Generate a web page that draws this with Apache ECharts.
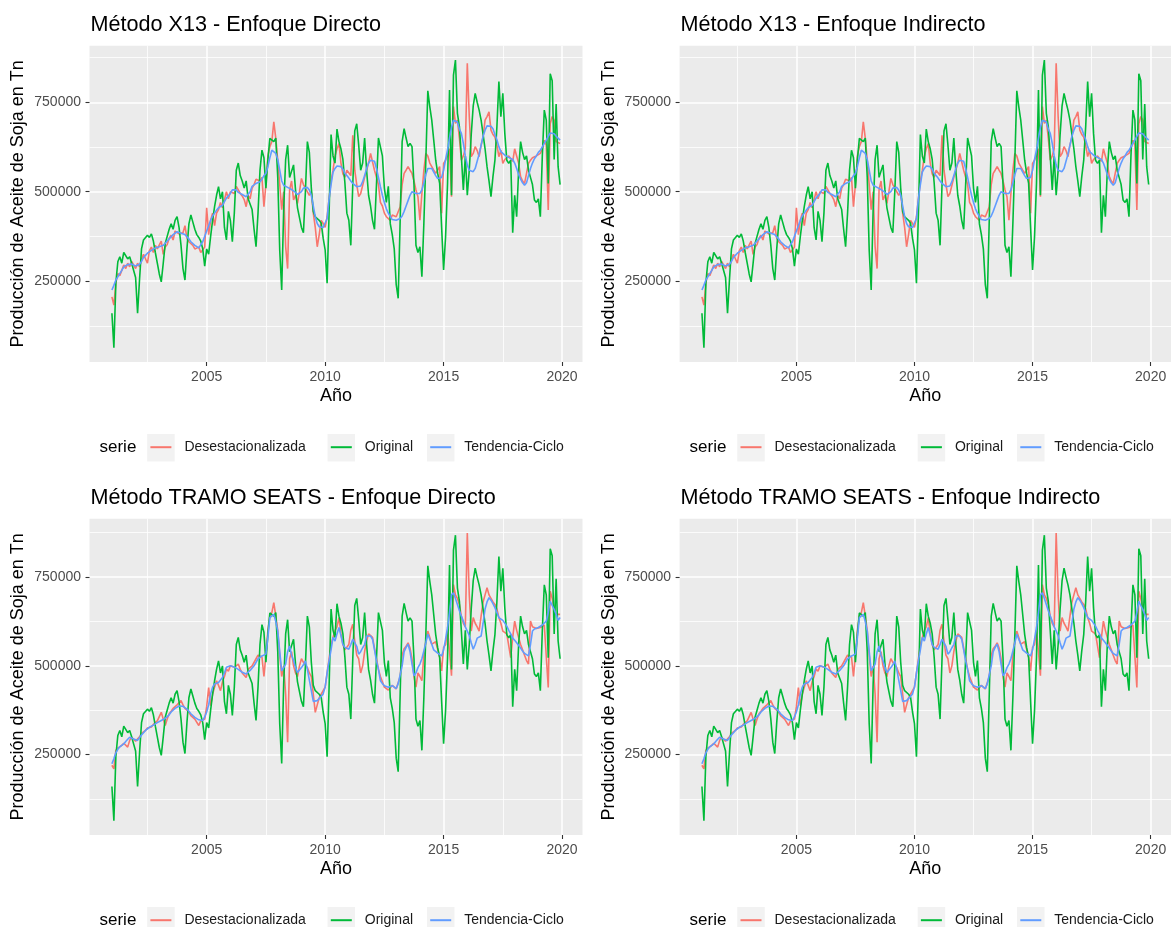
<!DOCTYPE html>
<html>
<head>
<meta charset="utf-8">
<title>Producción de Aceite de Soja - desestacionalización</title>
<script src="https://cdn.jsdelivr.net/npm/echarts@6/dist/echarts.min.js"></script>
<style>
  html, body { margin: 0; padding: 0; background: #ffffff; }
  #main { width: 1171px; height: 927px; }
</style>
</head>
<body>
<div id="main"></div>
<script>
  // serie mensual, enero 2001 a diciembre 2019, en miles de toneladas
  const anioInicio = 2001;

  const original = [
    160, 64, 245, 304, 318, 300, 330, 335, 312, 318, 300, 295,
    260, 160, 255, 340, 365, 360, 378, 372, 382, 362, 330, 300,
    270, 248, 300, 355, 375, 395, 410, 395, 420, 430, 400, 350,
    285, 253, 340, 410, 435, 415, 395, 380, 372, 362, 340, 292,
    340, 325, 375, 420, 458, 490, 514, 480, 500, 400, 365, 445,
    420, 360, 440, 560, 580, 545, 530, 510, 530, 480, 485, 450,
    395, 346, 440, 560, 616, 595, 510, 590, 649, 645, 640, 650,
    540, 336, 225, 450, 590, 630, 540, 545, 575, 505, 455, 450,
    400, 385, 500, 640, 610, 510, 445, 430, 425, 420, 412, 370,
    337, 244, 440, 660, 600, 580, 675, 640, 620, 590, 525, 440,
    420, 350, 520, 670, 690, 630, 560, 580, 650, 560, 490, 460,
    420, 395, 520, 650, 650, 600, 510, 470, 515, 410, 380, 340,
    240, 202, 420, 640, 676, 650, 626, 635, 626, 520, 350, 330,
    346, 262, 411, 588, 782, 738, 700, 644, 588, 551, 523, 400,
    281, 374, 523, 784, 490, 826, 868, 719, 682, 598, 505, 600,
    490, 560, 660, 740, 775, 750, 728, 700, 660, 620, 570, 530,
    486, 542, 588, 682, 808, 710, 775, 663, 588, 579, 588, 385,
    490, 430, 560, 640, 610, 590, 600, 560, 540, 520, 477, 470,
    480, 430, 600, 728, 700, 523, 830, 810, 590, 745, 570, 520
  ];

  const desX13 = [
    206, 183, 245, 271, 265, 280, 295, 285, 300, 290, 305, 300,
    285, 300, 290, 310, 325, 320, 300, 335, 345, 330, 350, 340,
    340, 362, 325, 345, 352, 370, 378, 365, 390, 395, 382, 378,
    385, 405, 370, 360, 365, 350, 340, 335, 345, 330, 325, 345,
    455, 380, 420, 440, 405, 440, 450, 470, 455, 460, 500, 480,
    500, 505, 495, 515, 505, 495, 488, 478, 458, 490, 480, 510,
    520, 535, 537, 530, 540, 458, 520, 600, 626, 640, 695, 650,
    588, 520, 450, 500, 346, 285, 505, 530, 477, 490, 467, 500,
    537, 520, 510, 505, 490, 500, 440, 400, 346, 380, 420, 411,
    400, 430, 480, 530, 560, 600, 620, 635, 580, 550, 540, 560,
    560, 545, 658, 560, 520, 486, 495, 500, 540, 560, 580, 607,
    607, 560, 540, 520, 470, 460, 440, 430, 425, 420, 435, 430,
    430, 425, 458, 520, 551, 560, 570, 560, 551, 530, 505, 486,
    420, 495, 560, 607, 600, 580, 570, 560, 551, 560, 570, 440,
    579, 588, 600, 620, 486, 738, 691, 700, 650, 588, 600, 620,
    859, 710, 598, 607, 626, 615, 598, 630, 653, 700, 710, 723,
    672, 660, 653, 630, 598, 616, 579, 590, 588, 600, 605, 585,
    620, 600, 580, 542, 530, 523, 525, 579, 588, 595, 598, 600,
    605, 607, 620, 644, 630, 449, 690, 710, 700, 640, 640, 635
  ];

  const tenX13 = [
    225, 238, 253, 262, 271, 280, 290, 293, 296, 299, 298, 295,
    292, 290, 297, 305, 316, 322, 328, 332, 336, 340, 343, 346,
    346, 346, 350, 356, 362, 368, 374, 380, 385, 388, 387, 384,
    383, 380, 375, 368, 360, 355, 350, 346, 343, 345, 360, 375,
    390, 405, 420, 432, 440, 448, 455, 458, 462, 472, 482, 486,
    495, 505, 509, 505, 498, 495, 492, 488, 486, 490, 500, 515,
    520, 523, 527, 528, 535, 545, 551, 570, 595, 616, 618, 607,
    590, 560, 530, 518, 514, 512, 510, 506, 503, 498, 492, 490,
    500, 510, 514, 512, 505, 490, 460, 430, 411, 402, 398, 400,
    405, 425, 480, 520, 555, 565, 572, 574, 570, 563, 551, 545,
    538, 530, 523, 518, 514, 512, 516, 528, 545, 565, 580, 588,
    590, 585, 565, 540, 514, 490, 470, 452, 440, 430, 422, 420,
    420, 420, 425, 432, 445, 460, 475, 490, 500, 500, 495, 490,
    495, 505, 525, 548, 565, 570, 565, 555, 545, 537, 532, 540,
    560, 590, 617, 650, 680, 700, 705, 695, 675, 663, 635, 600,
    575, 560, 555, 556, 565, 585, 605, 630, 655, 672, 684, 686,
    683, 676, 660, 645, 626, 612, 607, 602, 598, 596, 594, 590,
    580, 565, 548, 535, 525, 518, 525, 545, 565, 580, 592, 600,
    610, 616, 625, 635, 644, 655, 664, 667, 662, 655, 650, 644
  ];

  const desTS = [
    220, 210, 262, 268, 271, 276, 282, 280, 271, 290, 299, 295,
    288, 290, 300, 310, 305, 318, 325, 330, 328, 335, 340, 345,
    350, 369, 350, 332, 350, 365, 372, 380, 385, 390, 385, 402,
    390, 380, 375, 370, 360, 355, 350, 346, 332, 345, 340, 350,
    385, 439, 388, 420, 440, 458, 445, 430, 455, 470, 491, 485,
    500, 495, 496, 500, 505, 490, 480, 475, 467, 490, 495, 500,
    505, 520, 530, 535, 525, 470, 530, 600, 640, 650, 678, 640,
    600, 530, 470, 500, 420, 285, 520, 540, 500, 480, 470, 500,
    520, 510, 505, 495, 480, 470, 420, 369, 390, 410, 420, 430,
    440, 480, 520, 560, 580, 600, 610, 636, 590, 560, 545, 550,
    560, 600, 617, 570, 530, 520, 480, 500, 540, 570, 590, 590,
    580, 550, 520, 490, 470, 455, 440, 437, 432, 430, 445, 440,
    435, 430, 470, 530, 548, 555, 565, 550, 520, 470, 440, 480,
    470, 458, 530, 570, 598, 580, 561, 565, 568, 570, 525, 486,
    552, 560, 600, 540, 472, 729, 700, 690, 673, 640, 620, 610,
    874, 700, 598, 636, 620, 610, 598, 640, 680, 700, 720, 700,
    690, 680, 673, 660, 636, 620, 598, 600, 590, 585, 523, 580,
    626, 600, 580, 560, 545, 530, 515, 505, 626, 610, 608, 605,
    608, 608, 610, 615, 620, 439, 710, 690, 660, 645, 645, 645
  ];

  const tenTS = [
    224, 238, 255, 265, 272, 276, 280, 287, 293, 299, 297, 294,
    291, 290, 295, 305, 310, 318, 323, 327, 330, 333, 337, 340,
    344, 346, 348, 352, 355, 362, 370, 374, 380, 383, 387, 388,
    386, 383, 378, 372, 365, 360, 355, 351, 348, 346, 346, 356,
    370, 390, 421, 440, 449, 451, 453, 460, 467, 480, 496, 497,
    500, 498, 497, 494, 490, 486, 482, 478, 477, 482, 487, 491,
    500, 510, 520, 525, 528, 531, 533, 580, 636, 640, 645, 625,
    598, 540, 486, 495, 505, 540, 556, 530, 515, 495, 481, 488,
    495, 503, 514, 490, 460, 430, 400, 397, 402, 407, 414, 421,
    440, 480, 514, 545, 580, 570, 590, 608, 585, 560, 552, 548,
    547, 560, 575, 580, 555, 533, 540, 551, 560, 584, 586, 584,
    575, 545, 514, 490, 458, 450, 444, 439, 440, 442, 444, 440,
    436, 450, 475, 500, 540, 552, 561, 540, 505, 472, 480, 495,
    505, 520, 542, 565, 589, 575, 561, 545, 540, 536, 533, 528,
    545, 575, 608, 650, 700, 706, 690, 673, 655, 640, 626, 610,
    598, 585, 565, 547, 560, 578, 582, 584, 620, 660, 680, 692,
    685, 675, 664, 650, 636, 632, 628, 626, 612, 600, 590, 578,
    572, 565, 561, 550, 542, 535, 530, 528, 560, 598, 604, 608,
    608, 608, 615, 620, 626, 650, 682, 670, 659, 645, 628, 636
  ];

  const nombresSerie = ['Desestacionalizada', 'Original', 'Tendencia-Ciclo'];
  const colores = ['#F8766D', '#00BA38', '#619CFF'];
  const ticksAnio = [2005, 2010, 2015, 2020];
  const ticksAnioMenor = [2002.5, 2007.5, 2012.5, 2017.5];
  const ticksProd = [250000, 500000, 750000];
  const ticksProdMenor = [125000, 375000, 625000, 875000];

  const paneles = [
    { titulo: 'Método X13 - Enfoque Directo', des: desX13, ten: tenX13 },
    { titulo: 'Método X13 - Enfoque Indirecto', des: desX13, ten: tenX13 },
    { titulo: 'Método TRAMO SEATS - Enfoque Directo', des: desTS, ten: tenTS },
    { titulo: 'Método TRAMO SEATS - Enfoque Indirecto', des: desTS, ten: tenTS }
  ];

  // ubicación de los paneles (px)
  const colX = [89.5, 679.6];
  const filaY = [45.7, 518.7];
  const anchoPanel = 493;
  const altoPanel = 316.3;
  const leyendaLinea = [60.9, 241.3, 340.7];
  const leyendaCentro = 402;
  const fuente = '"Liberation Sans", Arial, sans-serif';

  const anios = original.map((_, i) => anioInicio + i / 12);
  const xPad = (anios[anios.length - 1] - anios[0]) * 0.05;
  const xMin = anios[0] - xPad;
  const xMax = anios[anios.length - 1] + xPad;

  const option = {
    animation: false,
    title: [], grid: [], xAxis: [], yAxis: [], legend: [], series: [],
    graphic: { elements: [] }
  };

  paneles.forEach((p, k) => {
    const left = colX[k % 2];
    const top = filaY[Math.floor(k / 2)];
    const valores = [p.des, original, p.ten];
    const todos = [].concat(...valores);
    const lo = Math.min(...todos) * 1000;
    const hi = Math.max(...todos) * 1000;
    const yPad = (hi - lo) * 0.05;
    const yMin = lo - yPad, yMax = hi + yPad;

    option.title.push({
      text: p.titulo, left: left + 1, top: top - 31.5, padding: 0,
      textStyle: { fontSize: 21.6, fontWeight: 'normal', color: '#000', fontFamily: fuente }
    });

    option.grid.push({
      left: left, top: top, width: anchoPanel, height: altoPanel,
      show: true, backgroundColor: '#EBEBEB', borderWidth: 0
    });

    // ejes principales
    option.xAxis.push({
      type: 'value', gridIndex: k, min: xMin, max: xMax,
      axisLine: { show: false },
      axisTick: { show: true, length: 4, customValues: ticksAnio, lineStyle: { color: '#333333', width: 1.1 } },
      axisLabel: { customValues: ticksAnio, formatter: v => String(v), color: '#4D4D4D', fontSize: 14, fontFamily: fuente, margin: 8 },
      splitLine: { show: true, lineStyle: { color: '#FFFFFF', width: 1.5 } },
      name: 'Año', nameLocation: 'middle', nameGap: 25.5,
      nameTextStyle: { fontSize: 18, color: '#000', fontFamily: fuente }
    });
    // líneas menores
    option.xAxis.push({
      type: 'value', gridIndex: k, min: xMin, max: xMax,
      axisLine: { show: false },
      axisTick: { show: false, customValues: ticksAnioMenor },
      axisLabel: { show: false },
      splitLine: { show: true, lineStyle: { color: '#FFFFFF', width: 0.8 } }
    });
    option.yAxis.push({
      type: 'value', gridIndex: k, min: yMin, max: yMax,
      axisLine: { show: false },
      axisTick: { show: true, length: 4, customValues: ticksProd, lineStyle: { color: '#333333', width: 1.1 } },
      axisLabel: { customValues: ticksProd, formatter: v => String(v), color: '#4D4D4D', fontSize: 14, fontFamily: fuente, margin: 8.5 },
      splitLine: { show: true, lineStyle: { color: '#FFFFFF', width: 1.5 } },
      name: 'Producción de Aceite de Soja en Tn', nameLocation: 'middle', nameGap: 62,
      nameTextStyle: { fontSize: 18, color: '#000', fontFamily: fuente }
    });
    option.yAxis.push({
      type: 'value', gridIndex: k, min: yMin, max: yMax,
      axisLine: { show: false },
      axisTick: { show: false, customValues: ticksProdMenor },
      axisLabel: { show: false },
      splitLine: { show: true, lineStyle: { color: '#FFFFFF', width: 0.8 } }
    });

    nombresSerie.forEach((nombre, j) => {
      option.series.push({
        name: nombre, type: 'line', xAxisIndex: 2 * k, yAxisIndex: 2 * k,
        symbol: 'none', showSymbol: false, silent: true,
        lineStyle: { color: colores[j], width: 1.6 },
        itemStyle: { color: colores[j] },
        data: valores[j].map((v, i) => [anios[i], v * 1000])
      });

      option.legend.push({
        data: [nombre], left: left + leyendaLinea[j], top: top + leyendaCentro - 7.5,
        padding: 0, icon: 'rect', itemWidth: 21, itemHeight: 2, selectedMode: false,
        textStyle: { fontSize: 14, color: '#1A1A1A', fontFamily: fuente, padding: [0, 0, 0, 8] }
      });

      option.graphic.elements.push({
        type: 'rect', z: 1,
        shape: { x: left + leyendaLinea[j] - 3.25, y: top + leyendaCentro - 13.75, width: 27.5, height: 27.5 },
        style: { fill: '#F2F2F2' }
      });
    });

    option.graphic.elements.push({
      type: 'text', z: 1, left: left + 10, top: top + leyendaCentro - 9,
      style: { text: 'serie', fontSize: 17, fill: '#000', fontFamily: fuente }
    });
  });

  const chart = echarts.init(document.getElementById('main'));
  chart.setOption(option);
</script>
</body>
</html>
